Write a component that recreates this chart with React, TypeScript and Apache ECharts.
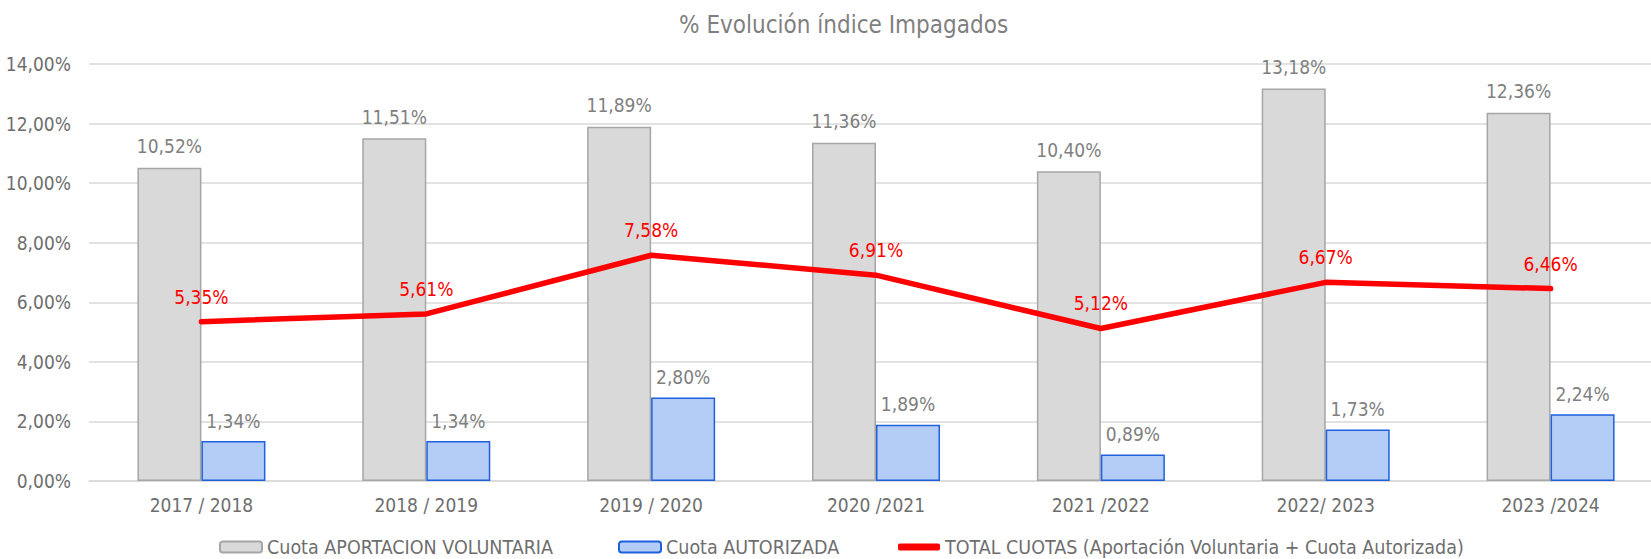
import React, { useEffect, useRef } from "react";
import * as echarts from "echarts";

const categories = ["2017 / 2018", "2018 / 2019", "2019 / 2020", "2020 /2021", "2021 /2022", "2022/ 2023", "2023 /2024"];
const voluntaria = [10.52, 11.51, 11.89, 11.36, 10.40, 13.18, 12.36];
const autorizada = [1.34, 1.34, 2.80, 1.89, 0.89, 1.73, 2.24];
const total = [5.35, 5.61, 7.58, 6.91, 5.12, 6.67, 6.46];
const yTicks = { min: 0, max: 14, interval: 2 };

const FONT = "'DejaVu Sans Condensed', 'DejaVu Sans', sans-serif";
const fmt = (v: number) => v.toFixed(2).replace(".", ",") + "%";

export default function App() {
  const ref = useRef<HTMLDivElement>(null);
  useEffect(() => {
    document.body.style.margin = "0";
    const chart = echarts.init(ref.current!, null, { renderer: "svg" });
    const names = [
      "Cuota APORTACION VOLUNTARIA",
      "Cuota AUTORIZADA",
      "TOTAL CUOTAS (Aportación Voluntaria + Cuota Autorizada)",
    ];
    const legendBase = {
      top: 537,
      padding: 0,
      itemWidth: 42,
      itemHeight: 11,
      textStyle: { fontFamily: FONT, fontSize: 19.5, color: "#6E6E6E" },
      selectedMode: false,
    };
    chart.setOption({
      animation: false,
      backgroundColor: "#ffffff",
      title: {
        text: "% Evolución índice Impagados",
        left: 674,
        top: 8,
        textStyle: { fontFamily: FONT, fontSize: 24, fontWeight: "normal", color: "#7F7F7F" },
      },
      legend: [
        { ...legendBase, left: 219, data: [names[0]] },
        { ...legendBase, left: 618, data: [names[1]] },
        {
          ...legendBase,
          left: 898,
          itemHeight: 7,
          data: [{ name: names[2], icon: "roundRect", itemStyle: { color: "#FF0000" } }],
        },
      ],
      grid: { left: 89, top: 64, right: 0, height: 417, containLabel: false },
      xAxis: {
        type: "category",
        data: categories,
        axisTick: { show: false },
        axisLine: { lineStyle: { color: "#D9D9D9", width: 1.5 } },
        axisLabel: { fontFamily: FONT, fontSize: 19, color: "#6E6E6E", margin: 14 },
      },
      yAxis: {
        type: "value",
        min: yTicks.min,
        max: yTicks.max,
        interval: yTicks.interval,
        axisLabel: { fontFamily: FONT, fontSize: 19, color: "#6E6E6E", margin: 18, formatter: (v: number) => fmt(v) },
        splitLine: { lineStyle: { color: "#D9D9D9", width: 1.5 } },
        axisLine: { show: false },
        axisTick: { show: false },
      },
      series: [
        {
          name: names[0],
          type: "bar",
          data: voluntaria,
          barWidth: 64,
          barGap: "0%",
          itemStyle: { color: "#D9D9D9", borderColor: "#A6A6A6", borderWidth: 1.5 },
          label: {
            show: true,
            position: "top",
            distance: 12,
            fontFamily: FONT,
            fontSize: 19,
            color: "#7F7F7F",
            formatter: (p: any) => fmt(p.value),
          },
        },
        {
          name: names[1],
          type: "bar",
          data: autorizada,
          barWidth: 64,
          barGap: "0%",
          itemStyle: { color: "#B4CDF7", borderColor: "#1F60DD", borderWidth: 1.5 },
          label: {
            show: true,
            position: "top",
            distance: 11,
            fontFamily: FONT,
            fontSize: 19,
            color: "#7F7F7F",
            formatter: (p: any) => fmt(p.value),
          },
        },
        {
          name: names[2],
          type: "line",
          data: total,
          symbol: "circle",
          symbolSize: 1,
          showSymbol: true,
          lineStyle: { color: "#FF0000", width: 5.5, cap: "round", join: "round" },
          itemStyle: { color: "#FF0000" },
          z: 5,
          label: {
            show: true,
            position: "top",
            distance: 15,
            fontFamily: FONT,
            fontSize: 19,
            color: "#FF0000",
            formatter: (p: any) => fmt(p.value),
          },
        },
      ],
    });
    return () => chart.dispose();
  }, []);
  return (
    <div style={{ width: 1651, height: 559, overflow: "hidden", position: "relative" }}>
      <div ref={ref} style={{ width: 1663, height: 559 }} />
    </div>
  );
}
